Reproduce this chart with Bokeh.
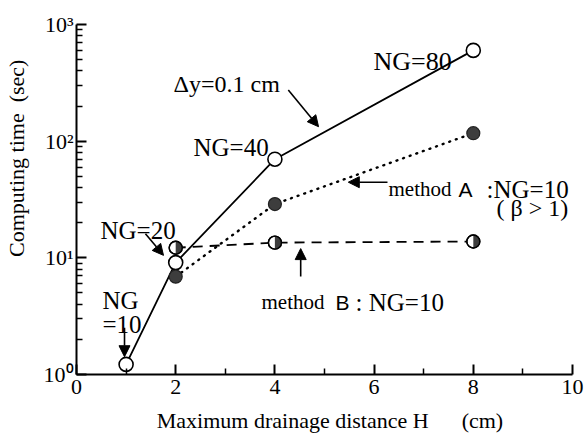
import math
from bokeh.plotting import figure
from bokeh.models import Range1d, FixedTicker, Label, Arrow, NormalHead
from bokeh.embed import file_html
from bokeh.resources import INLINE

# ---- data ----
H_dy = [1, 2, 4, 8]
t_dy = [1.22, 9.1, 70, 600]          # Δy = 0.1 cm (NG = 10, 20, 40, 80)
H_A = [2, 4, 8]
t_A = [6.9, 28.9, 117]               # method A, NG=10 (β > 1)
H_B = [2, 4, 8]
t_B = [12.2, 13.5, 13.8]             # method B, NG=10

x_ticks = [0, 2, 4, 6, 8, 10]
x_minor = [1, 3, 5, 7, 9]
y_ticks = [1, 10, 100, 1000]
y_tick_labels = {1: "10⁰", 10: "10¹", 100: "10²", 1000: "10³"}
y_minor = [m * d for d in (1, 10, 100) for m in range(2, 10)]

SERIF = "Liberation Serif"
SANS = "Liberation Sans"
NB = "\u00a0"

p = figure(width=584, height=435, x_range=Range1d(0, 10), y_range=Range1d(1, 1000),
           y_axis_type="log", output_backend="svg", toolbar_location=None,
           min_border_left=76, min_border_right=12, min_border_top=24, min_border_bottom=58)
p.outline_line_color = None
p.xgrid.grid_line_color = None
p.ygrid.grid_line_color = None
p.background_fill_color = "white"
p.border_fill_color = "white"

p.xaxis.ticker = FixedTicker(ticks=x_ticks, minor_ticks=x_minor)
p.yaxis.ticker = FixedTicker(ticks=y_ticks, minor_ticks=y_minor)
p.yaxis.major_label_overrides = y_tick_labels

for ax in (p.xaxis[0], p.yaxis[0]):
    ax.axis_line_width = 2
    ax.axis_line_color = "black"
    ax.major_tick_in = 10
    ax.major_tick_out = 0
    ax.minor_tick_in = 6
    ax.minor_tick_out = 0
    ax.major_tick_line_width = 2
    ax.minor_tick_line_width = 1.5
    ax.major_tick_line_color = "black"
    ax.minor_tick_line_color = "black"
    ax.major_label_text_font = SERIF
    ax.major_label_text_font_size = "22px"
    ax.major_label_text_color = "black"
    ax.axis_label_text_font = SERIF
    ax.axis_label_text_font_size = "22px"
    ax.axis_label_text_font_style = "normal"
    ax.axis_label_text_color = "black"
p.xaxis.major_label_standoff = 5
p.yaxis.major_label_standoff = 3
p.xaxis.axis_label = NB * 2 + "Maximum drainage distance H" + NB * 6 + "(cm)"
p.yaxis.axis_label = NB * 15 + "Computing time" + NB * 2 + "(sec)"
p.xaxis.axis_label_standoff = 11
p.yaxis.axis_label_standoff = 12

# ---- lines ----
p.line(H_dy, t_dy, line_color="black", line_width=1.8)
p.line(H_A, t_A, line_color="black", line_width=2.4, line_dash="1 6", line_cap="round")
p.line(H_B, t_B, line_color="black", line_width=1.8, line_dash="10 7")

# ---- markers ----
p.scatter(H_dy, t_dy, size=14, fill_color="white", line_color="black", line_width=1.6)
p.scatter(H_A, t_A, size=13, fill_color="#3d3d3d", line_color="#222222", line_width=1.2)
p.scatter(H_B, t_B, size=13, fill_color="white", line_color="black", line_width=1.4)
p.wedge(x=H_B, y=t_B, radius=6.5, radius_units="screen", start_angle=-math.pi / 2,
        end_angle=math.pi / 2, direction="anticlock", fill_color="#3d3d3d", line_color=None)
p.scatter(H_B, t_B, size=13, fill_color=None, line_color="black", line_width=1.4)

# ---- annotations ----
def lab(x, y, text, size, font=SERIF):
    p.add_layout(Label(x=x, y=y, text=text, text_font=font, text_font_size=size,
                       text_color="black", text_align="left", text_baseline="alphabetic"))

lab(5.988, 483.9, "NG=80", "26px")
lab(1.956, 308.6, "Δy=0.1 cm", "24px")
lab(2.359, 88.2, "NG=40", "25px")
lab(0.484, 17.06, "NG=20", "25px")
lab(0.524, 4.337, "NG", "25px")
lab(0.524, 2.66, "=10", "25px")
lab(6.290, 38.8, "method", "21px")
lab(7.702, 38.8, "A", "21px", font=SANS)
lab(8.266, 38.8, ":NG=10", "25px")
lab(8.468, 26.8, "( β > 1)", "24px")
lab(3.730, 4.17, "method", "21px")
lab(5.222, 4.17, "B", "21px", font=SANS)
lab(5.625, 4.17, ": NG=10", "25px")

def arrow(x0, y0, x1, y1):
    p.add_layout(Arrow(end=NormalHead(size=11, fill_color="black", line_color="black", line_width=1),
                       x_start=x0, y_start=y0, x_end=x1, y_end=y1,
                       line_color="black", line_width=1.6))

arrow(4.27, 274, 4.88, 133)
arrow(1.39, 16.1, 1.754, 10.5)
arrow(0.968, 2.51, 0.968, 1.42)
arrow(6.27, 44.5, 5.48, 44.5)
arrow(4.52, 6.93, 4.52, 12.0)

open("out.html", "w").write(file_html(p, INLINE))
